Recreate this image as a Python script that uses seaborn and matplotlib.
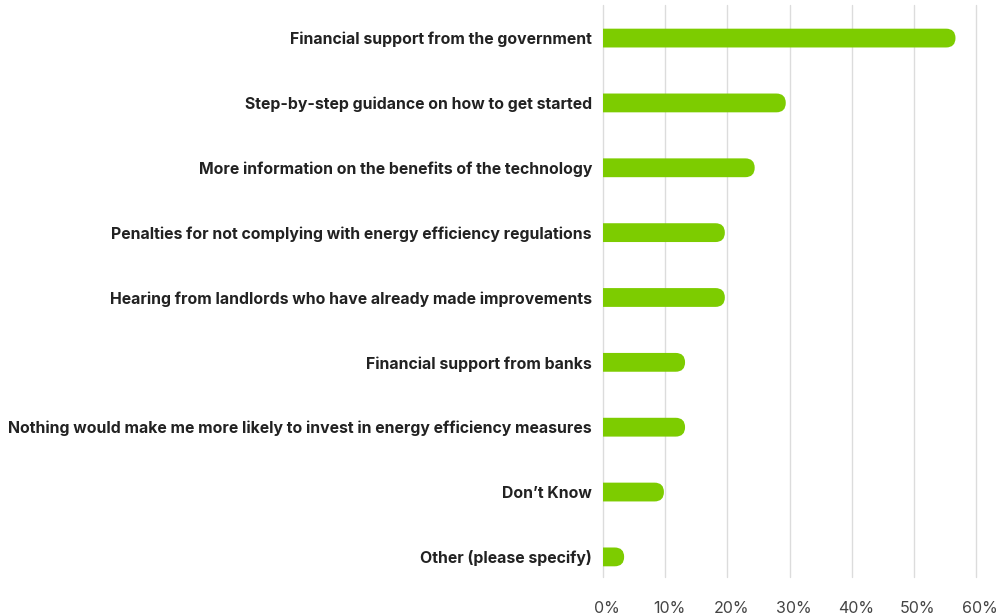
import matplotlib
matplotlib.use("Agg")
import matplotlib.pyplot as plt
from matplotlib.patches import FancyBboxPatch
from matplotlib.ticker import FuncFormatter
from matplotlib.transforms import ScaledTranslation
import seaborn as sns
import pandas as pd

# Survey responses: what would make landlords more likely to invest
categories = [
    "Financial support from the government",
    "Step-by-step guidance on how to get started",
    "More information on the benefits of the technology",
    "Penalties for not complying with energy efficiency regulations",
    "Hearing from landlords who have already made improvements",
    "Financial support from banks",
    "Nothing would make me more likely to invest in energy efficiency measures",
    "Don\u2019t Know",
    "Other (please specify)",
]
shares = [56.7, 29.4, 24.4, 19.6, 19.6, 13.2, 13.2, 9.8, 3.4]
x_ticks = [0, 10, 20, 30, 40, 50, 60]

BAR_COLOR = "#7dcc00"
GRID_COLOR = "#dcdcdc"

df = pd.DataFrame({"category": categories, "share": shares})

sns.set_style("white")
plt.rcParams["font.family"] = ["Inter", "DejaVu Sans"]

fig = plt.figure(figsize=(10.01, 6.14), dpi=100)
ax = fig.add_axes([603 / 1001, 1 - 577 / 614, (976 - 603) / 1001, (577 - 5) / 614])

sns.barplot(data=df, x="share", y="category", orient="h", color=BAR_COLOR,
            width=0.29, ax=ax, zorder=3)

ax.set_xlim(0, 60)
ax.set_ylim(len(categories) - 1 + 0.31, -0.51)

# Replace the square bars with ones that have a rounded right end
fig.canvas.draw()
px_per_x = ax.transData.transform((1, 0))[0] - ax.transData.transform((0, 0))[0]
px_per_y = abs(ax.transData.transform((0, 1))[1] - ax.transData.transform((0, 0))[1])
for patch in list(ax.patches):
    x0, y0 = patch.get_x(), patch.get_y()
    w, h = patch.get_width(), patch.get_height()
    r_px = h * px_per_y / 2
    r_x = r_px / px_per_x
    rounded = FancyBboxPatch(
        (x0 - r_x, y0), w + r_x, h,
        boxstyle=f"round,pad=0,rounding_size={r_x}",
        mutation_aspect=(h / 2) / r_x,
        facecolor=BAR_COLOR, edgecolor="none", zorder=3,
        clip_on=True,
    )
    patch.remove()
    ax.add_patch(rounded)

ax.set_xticks(x_ticks)
ax.xaxis.set_major_formatter(FuncFormatter(lambda v, _: f"{v:.0f}%"))
ax.grid(axis="x", color=GRID_COLOR, linewidth=1.0, zorder=0)
ax.grid(axis="y", visible=False)
ax.set_axisbelow(True)
for line in ax.get_xgridlines():
    line.set_clip_on(False)
for side in ["top", "right", "bottom", "left"]:
    ax.spines[side].set_visible(False)

ax.set_xlabel("")
ax.set_ylabel("")
ax.tick_params(axis="x", length=0, pad=17, labelsize=11.5, labelcolor="#444444")
ax.tick_params(axis="y", length=0, pad=8, labelsize=11.4, labelcolor="#222222")
for lbl in ax.get_yticklabels():
    lbl.set_fontweight("bold")
shift = ScaledTranslation(4 / 100, 0, fig.dpi_scale_trans)
for lbl in ax.get_xticklabels():
    lbl.set_transform(lbl.get_transform() + shift)

fig.savefig("out.png", dpi=100, facecolor="white")
